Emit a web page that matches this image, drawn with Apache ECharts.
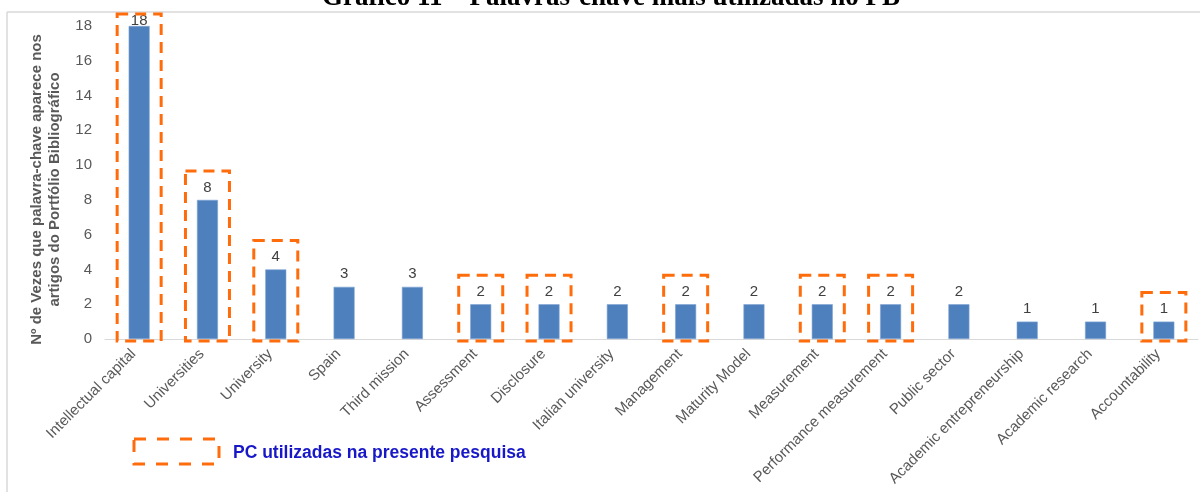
<!DOCTYPE html>
<html>
<head>
<meta charset="utf-8">
<script src="https://cdn.jsdelivr.net/npm/echarts@6/dist/echarts.min.js"></script>
<style>
  html, body { margin: 0; padding: 0; background: #fff; }
  #chart { width: 1200px; height: 492px; }
</style>
</head>
<body>
<div id="chart"></div>
<script>
// Keywords and how many times each appears in the bibliographic portfolio
const keywords = [
  'Intellectual capital', 'Universities', 'University', 'Spain', 'Third mission',
  'Assessment', 'Disclosure', 'Italian university', 'Management', 'Maturity Model',
  'Measurement', 'Performance measurement', 'Public sector',
  'Academic entrepreneurship', 'Academic research', 'Accountability'
];
const occurrences = [18, 8, 4, 3, 3, 2, 2, 2, 2, 2, 2, 2, 2, 1, 1, 1];

// Keywords that were adopted in this research (outlined with a dashed box)
const usedInResearch = [
  'Intellectual capital', 'Universities', 'University', 'Assessment', 'Disclosure',
  'Management', 'Measurement', 'Performance measurement', 'Accountability'
];

const yTicks = { min: 0, max: 18, interval: 2 };

const ORANGE = '#ff6c0c';
const GREY_TEXT = '#595959';
const FONT = '"Liberation Sans", Arial, sans-serif';

const boxData = keywords
  .map((k, i) => [i, occurrences[i]])
  .filter(d => usedInResearch.includes(keywords[d[0]]));

// the tallest bar's label sits slightly lower so it stays inside the frame
const barData = occurrences.map(v => v >= yTicks.max
  ? { value: v, label: { distance: -2 } }
  : v);

const chart = echarts.init(document.getElementById('chart'));

chart.setOption({
  animation: false,
  backgroundColor: '#fff',
  grid: { left: 105, right: 2, top: 26, bottom: 153, containLabel: false },
  xAxis: {
    type: 'category',
    data: keywords,
    axisTick: { show: false },
    axisLine: { lineStyle: { color: '#d9d9d9', width: 1 } },
    axisLabel: {
      rotate: 45,
      interval: 0,
      margin: 7,
      padding: [0, 8, 0, 0],
      color: GREY_TEXT,
      fontFamily: FONT,
      fontSize: 15
    }
  },
  yAxis: {
    type: 'value',
    min: yTicks.min,
    max: yTicks.max,
    interval: yTicks.interval,
    splitLine: { show: false },
    axisLine: { show: false },
    axisTick: { show: false },
    axisLabel: { color: GREY_TEXT, fontFamily: FONT, fontSize: 15, margin: 13 },
    name: 'Nº de Vezes que palavra-chave aparece nos\nartigos do Portfólio Bibliográfico',
    nameLocation: 'middle',
    nameGap: 41,
    nameTextStyle: {
      color: GREY_TEXT,
      fontFamily: FONT,
      fontSize: 15,
      fontWeight: 'bold',
      lineHeight: 18,
      padding: [0, 14, 0, 0]
    }
  },
  series: [
    {
      type: 'bar',
      data: barData,
      barWidth: 21,
      itemStyle: { color: '#4e80bd', borderColor: '#7ea3d3', borderWidth: 0.6 },
      label: {
        show: true,
        position: 'top',
        distance: 5,
        color: '#404040',
        fontFamily: FONT,
        fontSize: 15
      },
      z: 2
    },
    {
      // dashed outline around the keywords adopted in the research
      type: 'custom',
      data: boxData,
      clip: false,
      silent: true,
      z: 3,
      renderItem: function (params, api) {
        const base = api.coord([api.value(0), 0]);
        const top = api.coord([api.value(0), api.value(1)]);
        const w = 44;
        const y0 = Math.max(14, top[1] - 29);
        const y1 = base[1] + 2;
        return {
          type: 'rect',
          shape: { x: base[0] - w / 2, y: y0, width: w, height: y1 - y0 },
          style: {
            fill: 'none',
            stroke: ORANGE,
            lineWidth: 3,
            lineDash: [11, 7]
          }
        };
      }
    }
  ],
  graphic: [
    // frame of the chart area
    { type: 'line', shape: { x1: 7, y1: 12, x2: 1200, y2: 12 }, style: { stroke: '#d9d9d9', lineWidth: 1.5 } },
    { type: 'line', shape: { x1: 7, y1: 12, x2: 7, y2: 492 }, style: { stroke: '#d9d9d9', lineWidth: 1.5 } },
    {
      type: 'text',
      style: {
        x: 611, y: 12,
        text: 'Gráfico 11 – Palavras-chave mais utilizadas no PB',
        fontFamily: '"Liberation Serif", "Times New Roman", serif',
        fontWeight: 'bold',
        fontSize: 27,
        fill: '#000',
        textAlign: 'center',
        textVerticalAlign: 'bottom'
      },
      z: 10
    },
    // legend
    {
      type: 'rect',
      shape: { x: 134, y: 439, width: 85, height: 25 },
      style: { fill: 'none', stroke: ORANGE, lineWidth: 3, lineDash: [12, 11] }
    },
    {
      type: 'text',
      style: {
        x: 233, y: 453,
        text: 'PC utilizadas na presente pesquisa',
        fontFamily: FONT,
        fontWeight: 'bold',
        fontSize: 17.5,
        fill: '#1818c8',
        textVerticalAlign: 'middle'
      }
    }
  ]
});
</script>
</body>
</html>
